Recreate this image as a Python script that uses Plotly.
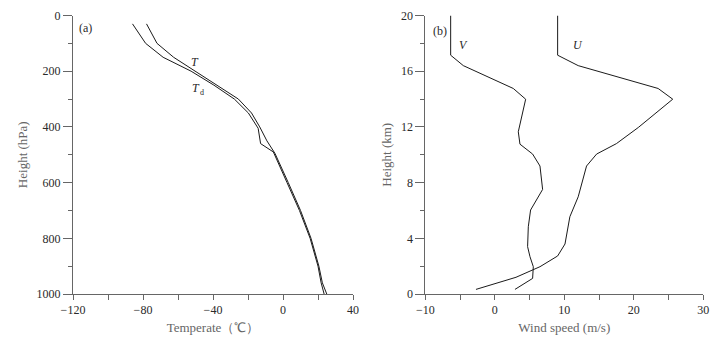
import plotly.graph_objects as go

# Panel (a): temperature profiles
p_T = [30, 100, 150, 200, 250, 300, 350, 400, 450, 495, 600, 700, 800, 900, 960, 1000]
T = [-78, -72, -62.5, -50, -37.5, -25.5, -18, -13.3, -9.2, -4.6, 3, 10, 16, 20.5, 22.5, 25]
p_Td = [30, 100, 150, 200, 250, 300, 350, 405, 460, 490, 600, 700, 800, 900, 960, 1000]
Td = [-86, -78.5, -68.5, -52.5, -39.5, -27.8, -19.8, -14.2, -12.8, -5.5, 2.3, 9.4, 15.5, 20, 21.8, 23.5]

# Panel (b): wind profiles
h_V = [20, 17.15, 16.4, 14.76, 13.99, 11.65, 10.76, 10.05, 9.19, 7.51, 6.03, 4.83, 3.4, 2.68, 1.96, 1.12, 0.33]
V = [-6.35, -6.35, -4.53, 2.66, 4.44, 3.38, 3.62, 5.44, 6.5, 6.88, 5.15, 4.82, 4.72, 5.06, 5.54, 5.44, 2.9]
h_U = [20, 17.15, 16.4, 14.76, 13.99, 11.96, 10.8, 10.05, 9.19, 6.98, 5.55, 3.59, 2.73, 1.96, 1.2, 0.33]
U = [9.04, 9.04, 12.0, 23.5, 25.6, 20.65, 17.5, 14.65, 13.2, 12.0, 10.8, 10.1, 9.04, 6.5, 3.05, -2.71]

FONT = "Liberation Serif"
TXT = "#2a2a2a"
TTL = "#666666"
AX = "#666666"

fig = go.Figure()
line = dict(color="#1a1a1a", width=1)
fig.add_trace(go.Scatter(x=T, y=p_T, mode="lines", line=line, xaxis="x", yaxis="y", name="T"))
fig.add_trace(go.Scatter(x=Td, y=p_Td, mode="lines", line=line, xaxis="x", yaxis="y", name="Td"))
fig.add_trace(go.Scatter(x=V, y=h_V, mode="lines", line=line, xaxis="x2", yaxis="y2", name="V"))
fig.add_trace(go.Scatter(x=U, y=h_U, mode="lines", line=line, xaxis="x2", yaxis="y2", name="U"))

common = dict(showgrid=False, zeroline=False, showline=True, linecolor=AX, linewidth=1,
              ticks="outside", tickcolor=AX, tickwidth=1, automargin=False,
              tickfont=dict(family=FONT, size=12, color=TXT))
title_font = dict(family=FONT, size=13, color=TTL)

ydom = [1 - 294 / 344, 1 - 15.5 / 344]
fig.update_layout(
    width=720, height=344, margin=dict(l=0, r=0, t=0, b=0),
    paper_bgcolor="white", plot_bgcolor="white", showlegend=False, hovermode=False,
    font=dict(family=FONT, size=12, color=TXT),
    xaxis=dict(domain=[73 / 720, 353 / 720], range=[-120, 40], dtick=40, tick0=-120, ticklen=5,
               minor=dict(dtick=20, ticks="outside", ticklen=5, tickcolor=AX),
               anchor="y", title=dict(text="Temperate（℃）", standoff=6, font=title_font), **common),
    yaxis=dict(domain=ydom, range=[1000, 0], dtick=200, ticklen=9,
               minor=dict(dtick=100, ticks="outside", ticklen=4, tickcolor=AX),
               anchor="x", title=dict(text="Height (hPa)", standoff=6, font=title_font), **common),
    xaxis2=dict(domain=[425.3 / 720, 703.3 / 720], range=[-10, 30], dtick=10, tick0=-10, ticklen=5,
                minor=dict(dtick=5, ticks="outside", ticklen=5, tickcolor=AX),
                anchor="y2", title=dict(text="Wind speed (m/s)", standoff=6, font=title_font), **common),
    yaxis2=dict(domain=ydom, range=[0, 20], dtick=4, ticklen=9,
                minor=dict(dtick=2, ticks="outside", ticklen=4, tickcolor=AX),
                anchor="x2", title=dict(text="Height (km)", standoff=6, font=title_font), **common),
)

ann_font = dict(family=FONT, size=12, color=TXT)
fig.add_annotation(text="(a)", xref="x", yref="y", x=-118, y=45, showarrow=False,
                   xanchor="left", font=ann_font)
fig.add_annotation(text="(b)", xref="x2", yref="y2", x=-9.2, y=18.9, showarrow=False,
                   xanchor="left", font=ann_font)
fig.add_annotation(text="<i>T</i>", xref="x", yref="y", x=-50.5, y=167, showarrow=False, font=ann_font)
fig.add_annotation(text="<i>T</i>", xref="x", yref="y", x=-50, y=262, showarrow=False, font=ann_font)
fig.add_annotation(text="d", xref="x", yref="y", x=-46.3, y=278, showarrow=False,
                   font=dict(family=FONT, size=8, color=TXT))
fig.add_annotation(text="<i>V</i>", xref="x2", yref="y2", x=-4.5, y=17.9, showarrow=False, font=ann_font)
fig.add_annotation(text="<i>U</i>", xref="x2", yref="y2", x=12, y=17.9, showarrow=False, font=ann_font)

fig.write_html("out.html", config={"displayModeBar": False},
               post_script="document.body.style.margin='0';")
